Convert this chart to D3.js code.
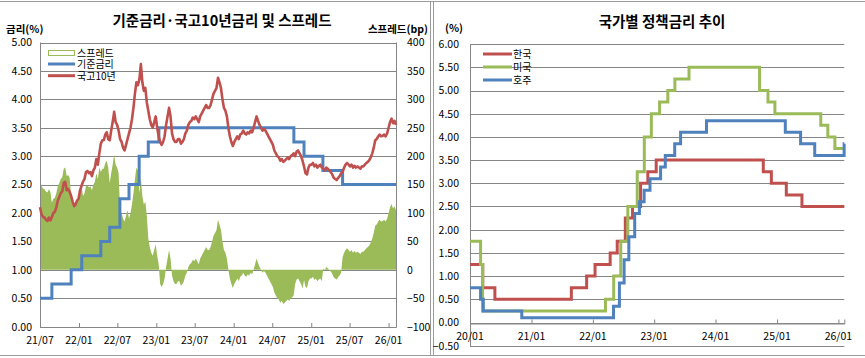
<!DOCTYPE html>
<html><head><meta charset="utf-8">
<script src="https://cdn.jsdelivr.net/npm/d3@7/dist/d3.min.js"></script>
<style>
body{margin:0;background:#fff}
svg{display:block}
text{font-family:"Noto Sans CJK KR","Noto Sans",sans-serif;fill:#000}
</style>
</head><body>
<svg id="c" width="865" height="358"></svg>
<script>
// ---------- DATA ----------
// KTB 10-year yield (%), weekly readings starting ktbStart
const ktbStart = "2021-07-01";
const ktbStepDays = 7;
const ktb10 = [
  // 2021 Jul-Dec
  2.10,1.98,1.93,1.92,1.88, 1.86,1.92,1.87,1.93, 2.00,2.02,2.10,2.22,2.28,
  2.35,2.38,2.53,2.55, 2.40,2.42,2.37,2.30, 2.20,2.12,2.15,2.22,2.25,
  // 2022
  2.40,2.48,2.55,2.60, 2.72,2.74,2.70,2.72, 2.65,2.75,2.80,2.95,2.85,
  3.05,3.22,3.28,3.28, 3.38,3.42,3.30,3.28, 3.45,3.60,3.78,3.60,3.55,
  3.45,3.30,3.25,3.15, 3.10,3.20,3.30,3.40, 3.50,3.65,3.85,4.10,4.30,
  4.25,4.35,4.62,4.30, 4.15,4.20,3.95,3.80, 3.65,3.55,3.50,3.60,3.70,
  // 2023
  3.50,3.35,3.25,3.20, 3.25,3.35,3.55,3.70, 3.85,3.70,3.40,3.30,3.25,
  3.25,3.30,3.30,3.22, 3.25,3.30,3.40,3.45, 3.55,3.60,3.62,3.68,3.65,
  3.70,3.65,3.60,3.70, 3.75,3.80,3.85,3.90,3.85, 3.85,3.90,4.00,4.10,
  4.15,4.20,4.38,4.30, 4.20,4.00,3.85,3.80,3.70, 3.50,3.35,3.25,3.18,
  // 2024
  3.25,3.30,3.35,3.30, 3.38,3.40,3.45,3.40,3.38, 3.42,3.40,3.45,3.42,
  3.50,3.60,3.70,3.62, 3.55,3.50,3.45,3.48,3.45, 3.40,3.35,3.30,3.25,
  3.20,3.10,3.05,3.00, 2.98,2.92,2.95,2.90,2.92, 2.95,2.98,2.95,3.00,
  3.02,3.05,3.00,3.08,3.10, 3.05,3.00,2.92,2.82, 2.70,2.68,2.80,2.85,
  // 2025
  2.85,2.88,2.82,2.85,2.80, 2.83,2.85,2.80,2.78, 2.75,2.80,2.78,2.75,
  2.72,2.68,2.62,2.60, 2.58,2.62,2.65,2.70,2.72, 2.80,2.85,2.88,2.85,
  2.82,2.85,2.80,2.83,2.80, 2.82,2.80,2.78,2.82, 2.82,2.85,2.88,2.90,
  2.93,2.98,3.05,3.15,3.28, 3.30,3.35,3.38,3.35, 3.36,3.38,3.35,3.40,
  // 2026
  3.50,3.60,3.66,3.58,3.62, 3.55
];

// Policy rates (step changes)
const krDates = ["2020-01-01","2020-03-17","2020-05-28","2021-08-26","2021-11-25","2022-01-14","2022-04-14","2022-05-26","2022-07-13","2022-08-25","2022-10-12","2022-11-24","2023-01-13","2024-10-11","2024-11-28","2025-02-25","2025-05-29"];
const krRates = [1.25,0.75,0.50,0.75,1.00,1.25,1.50,1.75,2.25,2.50,3.00,3.25,3.50,3.25,3.00,2.75,2.50];

const usDates = ["2020-01-01","2020-03-04","2020-03-16","2022-03-17","2022-05-05","2022-06-16","2022-07-28","2022-09-22","2022-11-03","2022-12-15","2023-02-02","2023-03-23","2023-05-04","2023-07-27","2024-09-19","2024-11-08","2024-12-19","2025-09-18","2025-10-30","2025-12-11"];
const usRates = [1.75,1.25,0.25,0.50,1.00,1.75,2.50,3.25,4.00,4.50,4.75,5.00,5.25,5.50,5.00,4.75,4.50,4.25,4.00,3.75];

const auDates = ["2020-01-01","2020-03-04","2020-03-20","2020-11-04","2022-05-04","2022-06-08","2022-07-06","2022-08-03","2022-09-07","2022-10-05","2022-11-02","2022-12-07","2023-02-08","2023-03-08","2023-05-03","2023-06-07","2023-11-08","2025-02-19","2025-05-21","2025-08-13","2026-02-04"];
const auRates = [0.75,0.50,0.25,0.10,0.35,0.85,1.35,1.85,2.35,2.60,2.85,3.10,3.35,3.60,3.85,4.10,4.35,4.10,3.85,3.60,3.85];

const endDate = "2026-02-05";
const leftStart = "2021-07-01";
const rightStart = "2020-01-01";

const leftRateTicks = [0,0.5,1,1.5,2,2.5,3,3.5,4,4.5,5];
const spreadTicks = [-100,-50,0,50,100,150,200,250,300,350,400];
const leftXTicks = ["2021-07-01","2022-01-01","2022-07-01","2023-01-01","2023-07-01","2024-01-01","2024-07-01","2025-01-01","2025-07-01","2026-01-01"];
const rightYTicks = [-0.5,0,0.5,1,1.5,2,2.5,3,3.5,4,4.5,5,5.5,6];
const rightXTicks = ["2020-01-01","2021-01-01","2022-01-01","2023-01-01","2024-01-01","2025-01-01","2026-01-01"];

const leftLegend = ["스프레드","기준금리","국고10년"];
const rightLegend = ["한국","미국","호주"];

// ---------- DRAW ----------
const P = d3.timeParse("%Y-%m-%d");
const fmtX = d3.timeFormat("%y/%m");
const svg = d3.select("#c");
const GRID = "#868686";
const RED = "#C0504D", GREEN = "#9BBB59", BLUE = "#4F81BD";
const TICKFS = 10.5;

// chart borders
svg.append("line").attr("x1",0).attr("x2",865).attr("y1",1.5).attr("y2",1.5).attr("stroke","#9a9a9a");
svg.append("line").attr("x1",0).attr("x2",865).attr("y1",355.5).attr("y2",355.5).attr("stroke","#9a9a9a");
svg.append("line").attr("x1",430.5).attr("x2",430.5).attr("y1",1.5).attr("y2",355.5).attr("stroke","#9a9a9a");
svg.append("line").attr("x1",433.5).attr("x2",433.5).attr("y1",1.5).attr("y2",355.5).attr("stroke","#9a9a9a");

function stepSeries(dates, rates, start, end){
  const pts = dates.map((d,i)=>({d:P(d), v:rates[i]}));
  const s = P(start), e = P(end);
  let out = [];
  let startVal = pts[0].v;
  pts.forEach(p=>{ if(p.d<=s) startVal=p.v; });
  out.push({d:s, v:startVal});
  pts.forEach(p=>{ if(p.d>s && p.d<=e) out.push(p); });
  out.push({d:e, v:out[out.length-1].v});
  return out;
}
function valueAt(dates, rates, date){
  let v = rates[0];
  dates.forEach((d,i)=>{ if(P(d)<=date) v=rates[i]; });
  return v;
}
function styleTicks(sel){
  sel.selectAll("text").attr("font-size",TICKFS).attr("fill","#000")
     .attr("font-family",'"Noto Sans CJK KR",sans-serif');
}

// ===== LEFT CHART =====
const xL = d3.scaleTime().domain([P(leftStart), P(endDate)]).range([40, 396]);
const yL = d3.scaleLinear().domain([0,5]).range([326.7, 42.5]);
const yS = d3.scaleLinear().domain([-100,400]).range([326.7, 42.5]);

const gL = svg.append("g");
gL.selectAll("line.g").data(leftRateTicks).enter().append("line")
  .attr("x1",40).attr("x2",396).attr("y1",d=>Math.round(yL(d))+0.5).attr("y2",d=>Math.round(yL(d))+0.5)
  .attr("stroke",GRID).attr("stroke-width",1);

const ktbData = ktb10.map((v,i)=>({d:d3.timeDay.offset(P(ktbStart), i*ktbStepDays), v:v}));
const spreadData = ktbData.map(p=>({d:p.d, v:(p.v - valueAt(krDates, krRates, p.d))*100}));

gL.append("path").datum(spreadData)
  .attr("d", d3.area().x(d=>xL(d.d)).y0(yS(0)).y1(d=>yS(d.v)))
  .attr("fill",GREEN).attr("stroke","none");

gL.append("line").attr("x1",40.5).attr("x2",40.5).attr("y1",42.5).attr("y2",327).attr("stroke",GRID);
gL.append("line").attr("x1",396.5).attr("x2",396.5).attr("y1",42.5).attr("y2",327).attr("stroke",GRID);

const baseL = stepSeries(krDates, krRates, leftStart, endDate);
gL.append("path").datum(baseL)
  .attr("d", d3.line().x(d=>xL(d.d)).y(d=>yL(d.v)).curve(d3.curveStepAfter))
  .attr("fill","none").attr("stroke",BLUE).attr("stroke-width",3);

gL.append("path").datum(ktbData)
  .attr("d", d3.line().x(d=>xL(d.d)).y(d=>yL(d.v)))
  .attr("fill","none").attr("stroke",RED).attr("stroke-width",2.6).attr("stroke-linejoin","round");

const axL = d3.axisLeft(yL).tickValues(leftRateTicks).tickFormat(d3.format(".2f")).tickSize(0).tickPadding(0);
gL.append("g").attr("transform","translate(32,0)").call(axL)
  .call(g=>g.select(".domain").remove()).call(styleTicks);
const axR = d3.axisRight(yS).tickValues(spreadTicks).tickFormat(d3.format("d")).tickSize(0).tickPadding(0);
gL.append("g").attr("transform","translate(407,0)").call(axR)
  .call(g=>g.select(".domain").remove()).call(styleTicks);
const axB = d3.axisTop(xL).tickValues(leftXTicks.map(P)).tickFormat("").tickSize(4);
gL.append("g").attr("transform","translate(0,327)").call(axB)
  .call(g=>g.select(".domain").attr("stroke",GRID))
  .call(g=>g.selectAll(".tick line").attr("stroke",GRID));
gL.selectAll("text.xl").data(leftXTicks).enter().append("text")
  .attr("x",d=>xL(P(d))).attr("y",344).attr("text-anchor","middle").attr("font-size",TICKFS)
  .text(d=>fmtX(P(d)));

svg.append("text").attr("x",222).attr("y",26).attr("text-anchor","middle").attr("font-size",14.5).attr("font-weight","bold")
  .text("기준금리·국고10년금리 및 스프레드");
svg.append("text").attr("x",6).attr("y",33).attr("font-size",10.5).attr("font-weight","bold").text("금리(%)");
svg.append("text").attr("x",428).attr("y",33).attr("text-anchor","end").attr("font-size",10.5).attr("font-weight","bold").text("스프레드(bp)");

const lgL = svg.append("g");
lgL.append("rect").attr("x",48.5).attr("y",50.5).attr("width",26).attr("height",5).attr("fill","#fff").attr("stroke",GREEN).attr("stroke-width",1);
lgL.append("line").attr("x1",48).attr("x2",75).attr("y1",64).attr("y2",64).attr("stroke",BLUE).attr("stroke-width",3);
lgL.append("line").attr("x1",48).attr("x2",75).attr("y1",75.7).attr("y2",75.7).attr("stroke",RED).attr("stroke-width",3);
lgL.selectAll("text").data(leftLegend).enter().append("text")
  .attr("x",77).attr("y",(d,i)=>[56.5,68,79.5][i]).attr("font-size",10).text(d=>d);

// ===== RIGHT CHART =====
const xR = d3.scaleTime().domain([P(rightStart), P(endDate)]).range([470, 844.3]);
const yR = d3.scaleLinear().domain([-0.5,6]).range([345.7, 44.1]);
const gR = svg.append("g");
gR.selectAll("line.g").data(rightYTicks).enter().append("line")
  .attr("x1",470).attr("x2",844.3).attr("y1",d=>Math.round(yR(d))+0.5).attr("y2",d=>Math.round(yR(d))+0.5)
  .attr("stroke",GRID);
gR.append("line").attr("x1",470.5).attr("x2",470.5).attr("y1",44).attr("y2",346).attr("stroke",GRID);
const axB2 = d3.axisTop(xR).tickValues(rightXTicks.map(P)).tickFormat("").tickSize(4);
gR.append("g").attr("transform",`translate(0,${Math.round(yR(0))+0.5})`).call(axB2)
  .call(g=>g.select(".domain").attr("stroke",GRID))
  .call(g=>g.selectAll(".tick line").attr("stroke",GRID));

const lineR = d3.line().x(d=>xR(d.d)).y(d=>yR(d.v)).curve(d3.curveStepAfter);
[[krDates,krRates,RED],[usDates,usRates,GREEN],[auDates,auRates,BLUE]].forEach(([ds,rs,c])=>{
  gR.append("path").datum(stepSeries(ds,rs,rightStart,endDate))
    .attr("d",lineR).attr("fill","none").attr("stroke",c).attr("stroke-width",3);
});

const axL2 = d3.axisLeft(yR).tickValues(rightYTicks).tickFormat(d3.format(".2f")).tickSize(0).tickPadding(0);
gR.append("g").attr("transform","translate(459,0)").call(axL2)
  .call(g=>g.select(".domain").remove()).call(styleTicks);
gR.selectAll("text.xl").data(rightXTicks).enter().append("text")
  .attr("x",d=>xR(P(d))).attr("y",340).attr("text-anchor","middle").attr("font-size",TICKFS)
  .text(d=>fmtX(P(d)));

svg.append("text").attr("x",662).attr("y",27).attr("text-anchor","middle").attr("font-size",14.5).attr("font-weight","bold")
  .text("국가별 정책금리 추이");
svg.append("text").attr("x",445).attr("y",32).attr("font-size",10.5).attr("font-weight","bold").text("(%)");

const lgR = svg.append("g");
[RED,GREEN,BLUE].forEach((c,i)=>{
  lgR.append("line").attr("x1",483).attr("x2",512).attr("y1",[54,67,80][i]).attr("y2",[54,67,80][i]).attr("stroke",c).attr("stroke-width",3);
});
lgR.selectAll("text").data(rightLegend).enter().append("text")
  .attr("x",513).attr("y",(d,i)=>[57.5,70.5,83.5][i]).attr("font-size",10).text(d=>d);
</script>
</body></html>
